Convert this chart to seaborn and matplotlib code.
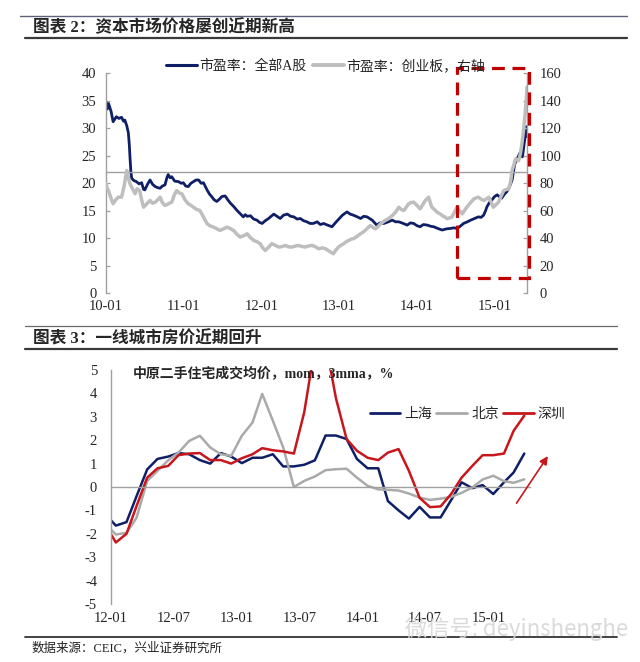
import matplotlib
matplotlib.use("Agg")
import matplotlib.pyplot as plt
import matplotlib.dates as mdates
from matplotlib.patches import Rectangle
from matplotlib.lines import Line2D
import numpy as np
import pandas as pd
import seaborn as sns

# === 图表2: 市盈率 (months since 2010-01) ===
a_share_month = [0.0, 0.2, 0.4, 0.8, 1.1, 1.6, 2.0, 2.4, 2.7, 2.9, 3.2, 3.45, 3.6, 3.7, 3.85,
                 3.97, 4.3, 4.7, 5.1, 5.5, 5.8, 6.0, 6.4, 6.8, 7.2, 7.6, 8.0, 8.35, 8.7, 9.1,
                 9.4, 9.6, 9.9, 10.15, 10.6, 11.2, 11.6, 11.95, 12.3, 12.7, 13.1, 13.5, 13.9,
                 14.3, 14.7, 15.05, 15.3, 15.6, 16.0, 16.3, 16.7, 17.1, 17.5, 17.9, 18.4, 18.8,
                 19.2, 19.7, 20.2, 20.7, 21.2, 21.5, 21.8, 22.3, 22.8, 23.3, 23.7, 24.1, 24.6,
                 25.1, 25.5, 25.9, 26.4, 26.9, 27.4, 28.0, 28.5, 29.0, 29.5, 30.0, 30.5, 31.0,
                 31.5, 32.0, 32.6, 33.1, 33.6, 34.2, 34.9, 35.4, 35.9, 36.5, 37.2, 37.7, 38.2,
                 38.8, 39.3, 39.8, 40.3, 40.7, 41.1, 41.5, 41.8, 42.3, 42.9, 43.6, 44.2, 44.7,
                 45.2, 45.9, 46.5, 47.0, 47.5, 48.0, 48.5, 49.0, 49.6, 50.1, 50.6, 51.2, 51.9,
                 52.5, 53.2, 53.7, 54.2, 54.7, 55.2, 55.8, 56.3, 56.9, 57.5, 57.9, 58.3, 58.6,
                 58.8, 59.2, 59.6, 60.0, 60.4, 60.8, 61.1, 61.5, 61.9, 62.3, 62.7, 63.1, 63.5,
                 63.9, 64.3, 64.6, 64.9, 65.0]
a_share_pe = [34.8, 33.5, 34.5, 33.0, 31.2, 32.1, 31.8, 32.0, 31.3, 31.5, 30.5, 29.2, 27.0, 24.8, 22.0,
              20.9, 20.5, 20.3, 19.9, 20.1, 18.9, 18.8, 19.8, 20.6, 19.8, 19.4, 19.2, 19.1, 19.5, 19.7,
              21.0, 21.6, 21.0, 21.2, 20.4, 20.3, 20.0, 20.1, 19.5, 19.4, 20.0, 20.3, 20.6,
              20.6, 20.0, 20.1, 19.5, 18.8, 18.0, 17.6, 17.0, 16.7, 17.1, 17.6, 17.7, 17.0,
              16.4, 15.8, 15.1, 14.5, 13.9, 14.3, 14.0, 14.1, 13.5, 13.3, 12.9, 12.7, 13.2,
              13.6, 14.0, 14.4, 14.0, 13.6, 14.2, 14.4, 14.0, 13.9, 13.5, 13.6, 13.2, 13.0,
              12.7, 12.7, 13.0, 12.5, 12.7, 12.4, 12.1, 12.8, 13.45, 14.2, 14.8, 14.4, 14.2,
              13.9, 13.6, 14.0, 13.9, 13.6, 13.3, 12.8, 12.4, 12.8, 12.7, 13.0, 13.3, 13.0,
              13.0, 12.7, 12.4, 12.8, 12.7, 12.3, 12.1, 12.5, 12.4, 12.2, 12.1, 11.8, 11.5,
              11.7, 11.8, 11.9, 11.8, 12.2, 12.7, 13.0, 13.3, 13.6, 13.9, 13.8, 14.2, 15.0,
              15.7, 16.5, 17.0, 17.6, 17.9, 17.5, 17.3, 18.0, 18.5, 19.4, 20.6, 23.5, 24.5,
              25.5, 24.8, 27.5, 30.3, 28.5]

gem_month = [0.0, 0.2, 0.4, 0.7, 1.1, 1.5, 1.9, 2.4, 2.8, 3.2, 3.45, 3.7, 4.1, 4.5, 4.8, 5.2,
             5.5, 5.8, 6.3, 6.8, 7.2, 7.6, 8.0, 8.35, 8.7, 9.1, 9.6, 10.15, 10.5, 10.9, 11.3,
             11.7, 12.2, 12.7, 13.1, 13.5, 14.0, 14.5, 15.0, 15.6, 16.1, 16.6, 17.1, 17.6,
             18.2, 18.7, 19.2, 19.7, 20.2, 20.7, 21.3, 21.8, 22.3, 22.8, 23.3, 23.8, 24.2,
             24.6, 25.1, 25.6, 26.1, 26.7, 27.2, 27.7, 28.2, 28.7, 29.2, 29.7, 30.3, 30.8,
             31.3, 31.8, 32.3, 32.8, 33.4, 33.9, 34.5, 35.1, 35.5, 35.9, 36.3, 36.7, 37.1,
             37.5, 37.9, 38.2, 38.8, 39.3, 39.7, 40.0, 40.4, 40.8, 41.2, 41.6, 42.0, 42.4,
             42.8, 43.1, 43.5, 43.9, 44.3, 44.7, 45.0, 45.2, 45.6, 46.0, 46.4, 46.7, 47.1,
             47.5, 48.0, 48.5, 48.9, 49.3, 49.8, 50.3, 50.7, 51.1, 51.5, 51.9, 52.3, 52.7,
             53.1, 53.4, 53.8, 54.2, 54.6, 55.0, 55.4, 55.7, 56.2, 56.8, 57.2, 57.5, 57.9,
             58.3, 58.7, 59.1, 59.5, 59.8, 60.2, 60.6, 61.0, 61.4, 61.8, 62.2, 62.5, 62.7,
             63.0, 63.2, 63.5, 63.7, 64.0, 64.2, 64.5, 64.7, 64.9, 65.0]
gem_pe = [80, 76, 74.7, 70, 65.1, 68, 69.9, 69.9, 78, 89.3, 84, 79.6, 76, 72.4, 76, 74.7,
          68, 62.6, 65, 67.5, 65.5, 66.3, 68, 69.9, 66, 63.9, 65, 66.3, 71, 74.7, 73,
          72.4, 68, 65.1, 64, 62.6, 61, 60.2, 56, 50.6, 49, 48.1, 47, 45.7,
          47, 48.1, 47, 45.7, 43, 40.9, 42, 43.3, 40.5, 38.5, 37.5, 36.1, 33,
          31.2, 33.5, 36.1, 35, 33.6, 34, 34.8, 33.8, 33.6, 34.3, 34.8, 34, 33.6,
          34.5, 34.8, 34, 32.4, 33, 32.4, 30.5, 28.8, 31.5, 33.6, 35, 36.1, 37.5,
          38.5, 39.5, 39.7, 41.5, 43.3, 44.5, 45.7, 47.5, 49.3, 48, 46.9, 48.5, 50.6,
          52, 53.0, 54, 55.4, 57, 59.0, 61, 62.6, 61, 60.2, 63, 65.0, 66,
          66.3, 64, 61.4, 64.5, 67.5, 69.9, 62.6, 61, 59.0, 58, 56.6, 55.5, 54.2,
          55, 55.4, 59, 62.6, 60, 57.8, 60.5, 62.6, 65.5, 68.7, 69.5, 69.9, 68.5,
          67.5, 68.5, 69.9, 66, 62.6, 64.5, 66.3, 70.5, 74.7, 75.5, 75.9, 82, 89.3,
          94, 97.7, 97, 96.5, 102, 108.6, 120, 130.4, 142, 150]

year_ticks = [0, 12, 24, 36, 48, 60]
year_labels = ["10-01", "11-01", "12-01", "13-01", "14-01", "15-01"]

# === 图表3: 中原二手住宅成交均价, mom, 3mma, % (2011-12 .. 2015-04) ===
first_month = "2011-12-01"
shanghai = [-1.15, -1.65, -1.5, -0.4, 0.75, 1.2, 1.3, 1.45, 1.4, 1.15, 1.0, 1.45, 1.3, 1.02,
            1.25, 1.25, 1.4, 0.88, 0.88, 0.95, 1.14, 2.2, 2.2, 2.05, 1.2, 0.8, 0.8, -0.6,
            -1.0, -1.35, -0.85, -1.3, -1.3, -0.55, 0.2, -0.05, 0.08, -0.3, 0.2, 0.62, 1.43]
beijing = [-1.57, -2.03, -1.96, -1.32, 0.26, 0.69, 1.14, 1.47, 1.97, 2.19, 1.69, 1.4, 1.33,
           2.19, 2.76, 3.98, 2.83, 1.69, 0.0, 0.26, 0.45, 0.72, 0.76, 0.78, 0.4, 0.05, -0.1,
           -0.12, -0.15, -0.28, -0.45, -0.55, -0.5, -0.42, -0.25, -0.02, 0.32, 0.48, 0.25,
           0.18, 0.33]
shenzhen = [-1.59, -2.37, -2.0, -0.82, 0.4, 0.8, 0.9, 1.36, 1.43, 1.45, 1.15, 1.15, 1.0, 1.23,
            1.4, 1.66, 1.57, 1.52, 1.43, 3.19, 6.0, 6.2, 3.8, 2.05, 1.55, 1.25, 1.15, 1.47,
            1.62, 0.69, -0.46, -0.86, -0.83, -0.29, 0.4, 0.9, 1.36, 1.36, 1.43, 2.4, 3.05]
cities = ["上海", "北京", "深圳"]
half_year_ticks = ["2012-01-01", "2012-07-01", "2013-01-01", "2013-07-01",
                   "2014-01-01", "2014-07-01", "2015-01-01"]
half_year_labels = ["12-01", "12-07", "13-01", "13-07", "14-01", "14-07", "15-01"]

NAVY = "#0F1F66"
RED = "#C8161D"
GRAY = "#AAAAAA"
LGRAY = "#BEBEBE"
AXC = "#A0A0A0"

sns.set_style("white")
plt.rcParams["font.family"] = ["Liberation Serif", "Noto Sans CJK SC", "DejaVu Sans"]
plt.rcParams["axes.unicode_minus"] = False

W, H = 640, 662
fig = plt.figure(figsize=(W / 100, H / 100), dpi=100)


def fx(px):
    return px / W


def fy(py):
    return 1 - py / H


def hline(y, x0, x1, color, lw):
    fig.add_artist(Line2D([fx(x0), fx(x1)], [fy(y), fy(y)], transform=fig.transFigure,
                          color=color, lw=lw))


# header / footer rules and titles
hline(16, 20, 627, "#5C6078", 1.0)
hline(38, 25, 627, "#3A3A3A", 1.6)
fig.text(fx(33), fy(28), "图表 2：资本市场价格屡创近期新高", fontsize=12, fontweight="bold",
         va="center", ha="left")
hline(326, 25, 617, "#6A6A6A", 0.9)
hline(349, 25, 617, "#3A3A3A", 1.6)
fig.text(fx(33), fy(339), "图表 3：一线城市房价近期回升", fontsize=12, fontweight="bold",
         va="center", ha="left")
hline(637, 25, 617, "#333333", 1.3)
fig.text(fx(32), fy(648), "数据来源：CEIC，兴业证券研究所", fontsize=9, color="#222222",
         va="center", ha="left")
fig.text(fx(405), fy(629), "微信号: deyinshenghe", fontsize=16, color="#D6D6D6", alpha=0.9,
         va="center", ha="left", family=["Noto Sans CJK SC", "DejaVu Sans"])

# === top chart ===
ax1 = fig.add_axes([fx(106), fy(293.3), fx(421), 220 / H])
ax1r = ax1.twinx()

top_a = pd.DataFrame({"month": a_share_month, "pe": a_share_pe})
top_g = pd.DataFrame({"month": gem_month, "pe": gem_pe})
sns.lineplot(data=top_a, x="month", y="pe", ax=ax1, color=NAVY, lw=2.0, sort=False)
sns.lineplot(data=top_g, x="month", y="pe", ax=ax1r, color=LGRAY, lw=2.5, sort=False)

ax1.set_xlim(0, 65)
ax1.set_ylim(0, 40)
ax1r.set_ylim(0, 160)
ax1.set_yticks(range(0, 41, 5))
ax1r.set_yticks(range(0, 161, 20))
for a in (ax1, ax1r):
    a.set_xlabel("")
    a.set_ylabel("")
    a.patch.set_visible(False)
    for s in a.spines.values():
        s.set_visible(False)
        s.set_color(AXC)
        s.set_linewidth(1.0)
ax1.spines["left"].set_visible(True)
ax1.spines["bottom"].set_visible(True)
ax1.spines["bottom"].set_position(("data", 22))
ax1r.spines["right"].set_visible(True)
ax1.set_xticks(year_ticks)
ax1.tick_params(axis="x", direction="in", length=3, width=0.9, color=AXC, labelbottom=False)
ax1.tick_params(axis="y", direction="in", length=3, width=0.9, color=AXC, pad=7, labelsize=10.5)
ax1r.tick_params(axis="y", direction="in", length=3, width=0.9, color=AXC, pad=9, labelsize=10.5)
sec1 = ax1.secondary_xaxis("bottom")
sec1.set_xticks(year_ticks, labels=year_labels)
sec1.tick_params(length=0, pad=5, labelsize=10.5)
sec1.spines["bottom"].set_visible(False)

# dashed highlight box (left-axis units)
box = Rectangle((54.2, 2.7), 11.1, 38.2, transform=ax1.transData, fill=False,
                edgecolor="#C00000", lw=2.3, linestyle=(0, (4, 2.4)), clip_on=False, zorder=5)
ax1r.add_patch(box)

top_handles = [Line2D([], [], color=NAVY, lw=2.2), Line2D([], [], color=LGRAY, lw=2.8)]
ax1r.legend(top_handles, ["市盈率：全部A股", "市盈率：创业板，右轴"], loc="center left",
            bbox_to_anchor=(0.1425, 1.033), ncol=2, frameon=False, fontsize=10,
            handlelength=2.2, handletextpad=0.2, columnspacing=0.5,
            borderpad=0, borderaxespad=0)

# === bottom chart ===
ax2 = fig.add_axes([fx(111), fy(604), fx(418.8), 234 / H])
dates = pd.date_range(first_month, periods=len(shanghai), freq="MS") + pd.Timedelta(days=14)
house = pd.DataFrame({
    "date": np.concatenate([dates, dates, dates]),
    "mom": shanghai + beijing + shenzhen,
    "city": np.repeat(cities, len(dates)),
})
sns.lineplot(data=house, x="date", y="mom", hue="city", hue_order=cities,
             palette={"上海": NAVY, "北京": GRAY, "深圳": RED}, lw=1.8, ax=ax2, legend=False)

ax2.set_xlim(pd.Timestamp("2012-01-01"), pd.Timestamp("2015-05-01"))
ax2.set_ylim(-5, 5)
ax2.set_yticks(range(-5, 6))
ax2.set_xlabel("")
ax2.set_ylabel("")
ax2.patch.set_visible(False)
for s in ax2.spines.values():
    s.set_visible(False)
    s.set_color(AXC)
    s.set_linewidth(1.0)
ax2.spines["left"].set_visible(True)
ax2.spines["bottom"].set_visible(True)
ax2.spines["bottom"].set_position(("data", 0))
tick_dates = mdates.date2num(pd.to_datetime(half_year_ticks))
ax2.set_xticks(tick_dates)
ax2.tick_params(axis="x", direction="in", length=3, width=0.9, color=AXC, labelbottom=False)
ax2.tick_params(axis="y", direction="in", length=3, width=0.9, color=AXC, pad=10, labelsize=10.5)
sec2 = ax2.secondary_xaxis("bottom")
sec2.set_xticks(tick_dates, labels=half_year_labels)
sec2.tick_params(length=0, pad=6, labelsize=10.5)
sec2.spines["bottom"].set_visible(False)

ax2.text(0.0525, 0.987, "中原二手住宅成交均价，mom，3mma，%", transform=ax2.transAxes,
         fontsize=10, fontweight="bold", va="center", ha="left")

city_handles = [Line2D([], [], color=c, lw=2) for c in (NAVY, GRAY, RED)]
ax2.legend(city_handles, cities, loc="center left", bbox_to_anchor=(0.618, 0.812), ncol=3,
           frameon=False, fontsize=10, handlelength=2.2, handletextpad=0.3,
           columnspacing=0.3, borderpad=0, borderaxespad=0)

# trend arrow
ax2.annotate("", xy=(pd.Timestamp("2015-06-27"), 1.42), xytext=(pd.Timestamp("2015-03-19"), -0.79),
             arrowprops=dict(arrowstyle="-|>", color=RED, lw=1.2, mutation_scale=12),
             annotation_clip=False)

fig.savefig("out.png", dpi=100)
